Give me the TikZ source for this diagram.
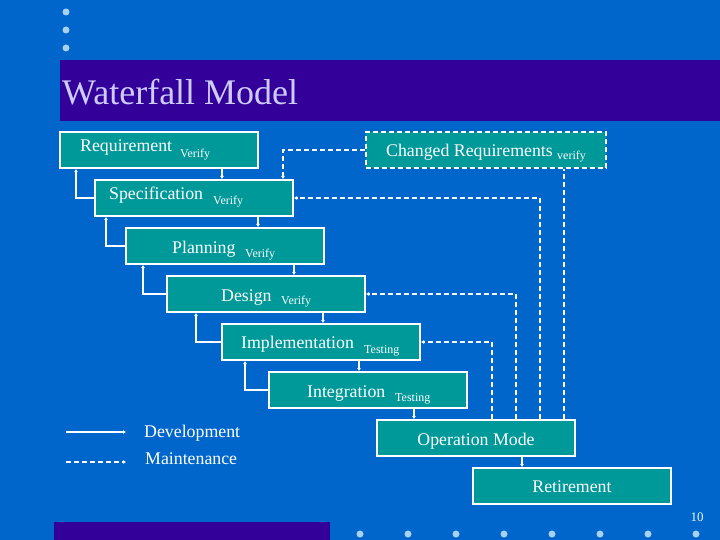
\documentclass[tikz,border=0pt]{standalone}
\usepackage{fontspec}
\setmainfont{Liberation Serif}
\usetikzlibrary{arrows.meta}
\definecolor{bg}{RGB}{0,102,204}
\definecolor{bar}{RGB}{51,0,153}
\definecolor{boxfill}{RGB}{0,153,153}
\definecolor{titletext}{RGB}{204,204,255}
\definecolor{dotc}{RGB}{168,208,240}
\tikzset{
  stagebox/.style={draw=white, line width=2pt, fill=boxfill, minimum width=198pt, minimum height=36pt, inner sep=0pt},
  mbox/.style={stagebox, dashed, dash pattern=on 5pt off 3pt},
  big/.style={text=white, inner sep=0pt, anchor=base west, font=\fontsize{17.8}{20}\selectfont},
  small/.style={text=white, inner sep=0pt, anchor=base west, font=\fontsize{12}{14}\selectfont},
  dev/.style={draw=white, line width=2pt, -{Latex[length=3pt,width=4pt]}},
  mnt/.style={draw=white, line width=2pt, dash pattern=on 5pt off 3pt, -{Latex[length=3pt,width=4pt]}},
  mntline/.style={draw=white, line width=2pt, dash pattern=on 5pt off 3pt},
  dot/.style={circle, fill=dotc, minimum size=7pt, inner sep=0pt}
}
\begin{document}
\begin{tikzpicture}[x=1pt, y=-1pt]
\fill[bg] (0,0) rectangle (720,540);
\useasboundingbox (0,0) rectangle (720,540);
% top dots
\node[dot] (t1) at (66,12) {};
\node[dot] (t2) at (66,30) {};
\node[dot] (t3) at (66,48) {};
% title bar
\fill[bar] (60,60) rectangle (720,121);
\node[anchor=base west, inner sep=0pt, text=titletext, font=\fontsize{36}{40}\selectfont] (title) at (62,105) {Waterfall Model};
% bottom bar and dots
\fill[bar] (54,522) rectangle (330,540);
\foreach \i/\x in {1/360,2/408,3/456,4/504,5/552,6/600,7/648,8/696}
  \node[dot] (b\i) at (\x,534) {};
\node[anchor=base, inner sep=0pt, text=white!85!dotc, font=\fontsize{13}{15}\selectfont] (pg) at (697,521) {10};

% boxes
\node[stagebox] (req) at (159,150) {};
\node[stagebox] (spec) at (194,198) {};
\node[stagebox] (plan) at (225,246) {};
\node[stagebox] (des) at (266,294) {};
\node[stagebox] (impl) at (321,342) {};
\node[stagebox] (integ) at (368,390) {};
\node[stagebox] (op) at (476,438) {};
\node[stagebox] (ret) at (572,486) {};
\node[mbox, minimum width=240pt] (chg) at (486,150) {};

% texts
\node[big] (treq) at (80,152) {Requirement};
\node[small] (vreq) at (180,158) {Verify};
\node[big] (tspec) at (109,200) {Specification};
\node[small] (vspec) at (213,205) {Verify};
\node[big] (tplan) at (172,253) {Planning};
\node[small] (vplan) at (245,257) {Verify};
\node[big] (tdes) at (221,301) {Design};
\node[small] (vdes) at (281,304) {Verify};
\node[big] (timpl) at (241,348) {Implementation};
\node[small] (vimpl) at (364,353) {Testing};
\node[big] (tinteg) at (307,397) {Integration};
\node[small] (vinteg) at (395,401) {Testing};
\node[big] (tchg) at (386,157) {Changed Requirements};
\node[small] (vchg) at (557,160) {verify};
\node[big, anchor=base] (top) at (476,445) {Operation Mode};
\node[big, anchor=base] (tret) at (572,492) {Retirement};

% development flow (down)
\coordinate (d1) at (222,0);
\coordinate (d2) at (258,0);
\coordinate (d3) at (294,0);
\coordinate (d4) at (323,0);
\coordinate (d5) at (359,0);
\coordinate (d6) at (414,0);
\coordinate (d7) at (522,0);
\draw[dev] (req.south -| d1) -- (spec.north -| d1);
\draw[dev] (spec.south -| d2) -- (plan.north -| d2);
\draw[dev] (plan.south -| d3) -- (des.north -| d3);
\draw[dev] (des.south -| d4) -- (impl.north -| d4);
\draw[dev] (impl.south -| d5) -- (integ.north -| d5);
\draw[dev] (integ.south -| d6) -- (op.north -| d6);
\draw[dev] (op.south -| d7) -- (ret.north -| d7);

% verify feedback (up)
\draw[dev] (spec.west) -| ([xshift=17pt]req.south west);
\draw[dev] (plan.west) -| ([xshift=12pt]spec.south west);
\draw[dev] (des.west) -| ([xshift=18pt]plan.south west);
\draw[dev] (impl.west) -| ([xshift=30pt]des.south west);
\draw[dev] (integ.west) -| ([xshift=24pt]impl.south west);

% maintenance
\coordinate (m0) at (283,0);
\coordinate (m1) at (492,0);
\coordinate (m2) at (516,0);
\coordinate (m3) at (540,0);
\coordinate (m4) at (564,0);
\draw[mnt] (chg.west) -| (spec.north -| m0);
\draw[mnt] (op.north -| m1) |- (impl.east);
\draw[mnt] (op.north -| m2) |- (des.east);
\draw[mnt] (op.north -| m3) |- (spec.east);
\draw[mntline] (op.north -| m4) -- (chg.south -| m4);

% legend
\coordinate (l1s) at (66,432);
\coordinate (l1e) at (126,432);
\coordinate (l2s) at (66,462);
\coordinate (l2e) at (126,462);
\draw[dev] (l1s) -- (l1e);
\draw[mnt] (l2s) -- (l2e);
\node[big] (ldev) at (144,437) {Development};
\node[big] (lmnt) at (145,464) {Maintenance};
\end{tikzpicture}
\end{document}
